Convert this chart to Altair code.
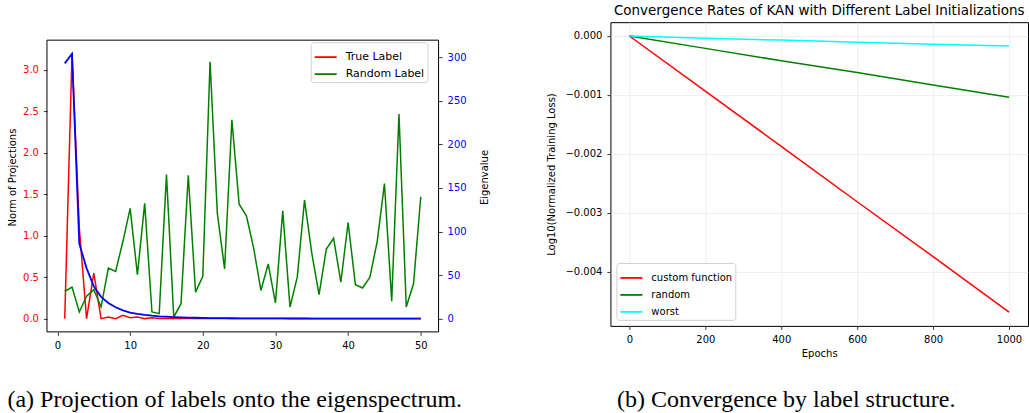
import altair as alt
import pandas as pd

# ---------------- data (left panel) ----------------
index = list(range(1, 51))
true_label = [0.0, 3.2, 1.1, 0.0, 0.55, 0.0, 0.02, 0.0, 0.04, 0.01,
              0.02, 0.0, 0.01, 0.0, 0.005, 0.0, 0.005, 0.0, 0.0, 0.0,
              0.0, 0.0, 0.0, 0.0, 0.0, 0.0, 0.0, 0.0, 0.0, 0.0,
              0.0, 0.0, 0.0, 0.0, 0.0, 0.0, 0.0, 0.0, 0.0, 0.0,
              0.0, 0.0, 0.0, 0.0, 0.0, 0.0, 0.0, 0.0, 0.0, 0.0]
random_label = [0.33, 0.38, 0.08, 0.27, 0.35, 0.14, 0.61, 0.57, 0.93, 1.33,
                0.53, 1.39, 0.08, 0.06, 1.74, 0.02, 0.18, 1.73, 0.32, 0.51,
                3.10, 1.27, 0.60, 2.40, 1.38, 1.24, 0.85, 0.34, 0.66, 0.19,
                1.30, 0.14, 0.50, 1.43, 0.79, 0.29, 0.84, 0.97, 0.44, 1.16,
                0.41, 0.37, 0.50, 0.93, 1.63, 0.21, 2.47, 0.14, 0.42, 1.47]
eigenvalue = [293, 304, 86, 58, 37, 25, 18, 13, 9.5, 7,
              5.5, 4.3, 3.4, 2.7, 2.2, 1.8, 1.5, 1.2, 1.0, 0.8,
              0.7, 0.6, 0.5, 0.45, 0.4, 0.35, 0.3, 0.27, 0.24, 0.21,
              0.19, 0.17, 0.15, 0.13, 0.12, 0.11, 0.1, 0.09, 0.08, 0.07,
              0.06, 0.06, 0.05, 0.05, 0.04, 0.04, 0.03, 0.03, 0.03, 0.02]

# ---------------- data (right panel) ----------------
epochs = [0, 200, 400, 600, 800, 1000]
custom_function = [0.0, -0.000935, -0.00187, -0.00281, -0.00374, -0.00468]
random_init = [0.0, -0.00021, -0.00042, -0.00062, -0.00083, -0.00104]
worst_init = [0.0, -0.00004, -0.00007, -0.000107, -0.00014, -0.000168]

caption_a = "(a) Projection of labels onto the eigenspectrum."
caption_b = "(b) Convergence by label structure."

FONT = "DejaVu Sans"

# left panel geometry: visible frame is FRAME_H tall, plot area extends TOP_EXTRA above it
LEFT_W, FRAME_H, TOP_EXTRA = 392, 292, 18
LEFT_H = FRAME_H + TOP_EXTRA
norm_lo, norm_hi = -0.16, 3.36
eig_lo, eig_hi = -15.2, 319.6
norm_top = norm_hi + TOP_EXTRA * (norm_hi - norm_lo) / FRAME_H
eig_top = eig_hi + TOP_EXTRA * (eig_hi - eig_lo) / FRAME_H

left_df = pd.DataFrame({
    "Index": index * 2,
    "Norm": true_label + random_label,
    "series": ["True Label"] * 50 + ["Random Label"] * 50,
})
eig_df = pd.DataFrame({"Index": index, "Eigenvalue": eigenvalue})

right_df = pd.DataFrame({
    "Epochs": epochs * 3,
    "loss": custom_function + random_init + worst_init,
    "init": ["custom function"] * 6 + ["random"] * 6 + ["worst"] * 6,
})

axis_common = dict(
    labelFont=FONT, labelFontSize=10, labelColor="#000000",
    titleFont=FONT, titleFontSize=10, titleFontWeight="normal", titleColor="#000000",
    tickColor="#000000", tickSize=3.5, tickWidth=0.8, domain=False,
    labelPadding=5, grid=False,
)

legend_common = dict(
    title=None, padding=3, strokeColor="#d0d0d0", fillColor="white", cornerRadius=3,
    symbolType="stroke", symbolSize=484, symbolStrokeWidth=1.8,
    labelFont=FONT, labelColor="#000000",
    rowPadding=0, labelOffset=8,
)

x_left = alt.X("Index:Q", scale=alt.Scale(domain=[-1.45, 52.45], nice=False, zero=False),
               axis=alt.Axis(values=[0, 10, 20, 30, 40, 50], title=None, format="d", **axis_common))

frame = alt.Chart(pd.DataFrame({"f": [0]})).mark_rect(
    fillOpacity=0, stroke="#000000", strokeWidth=1
).encode(x=alt.value(0), x2=alt.value(LEFT_W), y=alt.value(TOP_EXTRA), y2=alt.value(LEFT_H))

norm_lines = alt.Chart(left_df).mark_line(strokeWidth=1.5).encode(
    x=x_left,
    y=alt.Y("Norm:Q", scale=alt.Scale(domain=[norm_lo, norm_top], nice=False, zero=False),
            axis=alt.Axis(values=[0, 0.5, 1.0, 1.5, 2.0, 2.5, 3.0], format=".1f",
                          title="Norm of Projections", titlePadding=5,
                          **{**axis_common, "labelColor": "#ff0000"})),
    color=alt.Color("series:N",
                    scale=alt.Scale(domain=["True Label", "Random Label"], range=["#ff0000", "#008000"]),
                    legend=alt.Legend(orient="none", legendX=264, legendY=TOP_EXTRA + 2,
                                      labelFontSize=11, **legend_common)),
    order=alt.Order("Index:Q"),
)

eig_line = alt.Chart(eig_df).mark_line(strokeWidth=1.8, color="#0000ff").encode(
    x=x_left,
    y=alt.Y("Eigenvalue:Q", scale=alt.Scale(domain=[eig_lo, eig_top], nice=False, zero=False),
            axis=alt.Axis(orient="right", values=[0, 50, 100, 150, 200, 250, 300], format="d",
                          title="Eigenvalue", titleAngle=270, titlePadding=23,
                          **{**axis_common, "labelColor": "#0000ff"})),
)

cap_a = alt.Chart(pd.DataFrame({"t": [caption_a]})).mark_text(
    font="Liberation Serif", fontSize=24, color="#000000", baseline="middle", align="center"
).encode(text="t:N", x=alt.value(188), y=alt.value(378))

left = alt.layer(frame, norm_lines, eig_line, cap_a).resolve_scale(y="independent").properties(
    width=LEFT_W, height=LEFT_H, view=alt.ViewBackground(stroke="transparent"),
)

grid_axis = {**axis_common, "grid": True, "gridColor": "#ebebeb", "gridWidth": 0.8}

right_lines = alt.Chart(right_df).mark_line(strokeWidth=1.5).encode(
    x=alt.X("Epochs:Q", scale=alt.Scale(domain=[-50, 1050], nice=False, zero=False),
            axis=alt.Axis(values=[0, 200, 400, 600, 800, 1000], format="d", title="Epochs",
                          titlePadding=4, **grid_axis)),
    y=alt.Y("loss:Q", scale=alt.Scale(domain=[-0.004914, 0.000234], nice=False, zero=False),
            axis=alt.Axis(values=[0, -0.001, -0.002, -0.003, -0.004], format=".3f",
                          title="Log10(Normalized Training Loss)", titlePadding=8, **grid_axis)),
    color=alt.Color("init:N",
                    scale=alt.Scale(domain=["custom function", "random", "worst"],
                                    range=["#ff0000", "#008000", "#00ffff"]),
                    legend=alt.Legend(orient="bottom-left", offset=6, labelFontSize=10,
                                      **legend_common)),
    order=alt.Order("Epochs:Q"),
)

cap_b = alt.Chart(pd.DataFrame({"t": [caption_b]})).mark_text(
    font="Liberation Serif", fontSize=24, color="#000000", baseline="middle", align="center"
).encode(text="t:N", x=alt.value(176), y=alt.value(378))

right = alt.layer(right_lines, cap_b).properties(
    width=418, height=304,
    view=alt.ViewBackground(stroke="#000000", strokeWidth=1),
    title=alt.TitleParams(text="Convergence Rates of KAN with Different Label Initializations",
                          font=FONT, fontSize=13.5, fontWeight="normal", color="#000000", offset=5),
)

chart = alt.hconcat(left, right, spacing=55).resolve_scale(
    color="independent"
).resolve_legend(color="independent").properties(
    padding={"left": 6, "top": 3, "right": 0, "bottom": 0},
    background="white",
).configure_view(stroke="#000000", strokeWidth=1)

chart.save("out.html", embed_options={"renderer": "svg", "actions": False})
